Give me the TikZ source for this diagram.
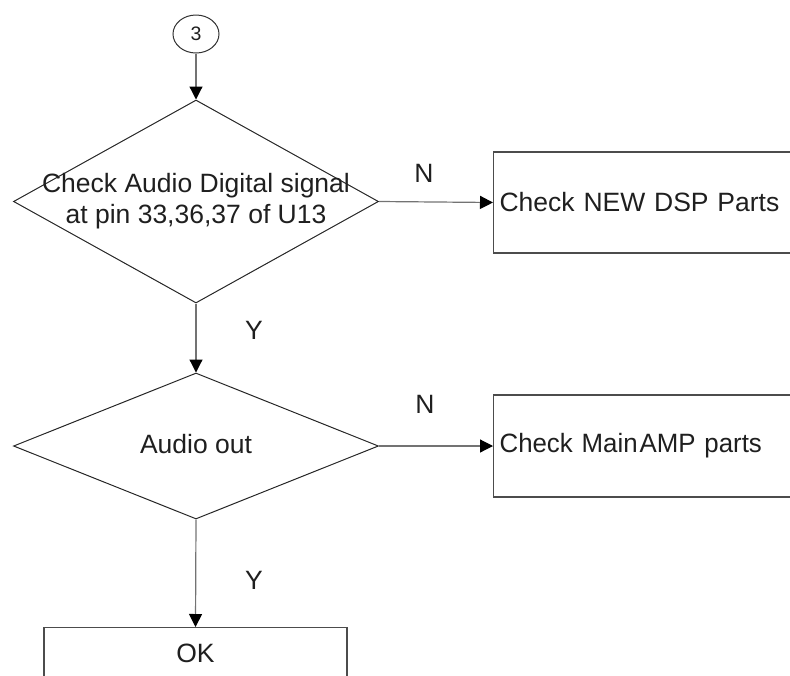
\documentclass[tikz,border=0pt]{standalone}
\usepackage{fontspec}
\setmainfont{Liberation Sans}
\usetikzlibrary{shapes.geometric,arrows.meta}
\begin{document}
\begin{tikzpicture}[x=1pt,y=-1pt,
  txt/.style={font=\fontsize{26.5}{31}\selectfont, text=black!88},
  conn/.style={draw=black!55, line width=1.2pt, -{Triangle[length=13pt,width=13pt,color=black]}},
  dia/.style={draw=black!85, line width=1pt, diamond, inner sep=0pt, minimum width=365pt},
  boxn/.style={draw=black!70, line width=1.2pt, rectangle, inner sep=0pt}
]
\useasboundingbox (0,0) rectangle (790,675);
\clip (0,0) rectangle (790,675);
\node[draw=black!80, line width=1pt, ellipse, minimum width=46pt, minimum height=38pt, inner sep=0pt, font=\fontsize{19.5}{22}\selectfont, text=black!88] (c3) at (196,34) {3};
\node[dia, minimum height=203pt] (d1) at (196,201.5) {};
\node[txt, align=center] (t1) at (196,201) {Check Audio Digital signal\\at pin 33,36,37 of U13};
\node[dia, minimum height=146pt] (d2) at (196,446) {};
\node[txt] (t2) at (196,444) {Audio out};
\node[boxn, txt, anchor=west, minimum width=330pt, minimum height=101pt, text width=318pt, inner xsep=6pt, align=left] (b1) at (493,202.5) {Check NEW DSP Parts};
\node[boxn, txt, anchor=west, minimum width=330pt, minimum height=102pt, text width=318pt, inner xsep=6pt, align=left] (b2) at (493,446) {\addfontfeatures{FakeStretch=0.975}Check Main\kern2pt AMP parts};
\node[boxn, txt, anchor=north, minimum width=303pt, minimum height=52pt] (ok) at (195.5,627) {OK};
\node[txt, anchor=base] (n1) at (424,182) {N};
\node[txt, anchor=base] (n2) at (425,413) {N};
\node[txt, anchor=base] (y1) at (254,339) {Y};
\node[txt, anchor=base] (y2) at (254,589) {Y};
\draw[conn] (c3.south) -- (d1.north);
\draw[conn] (d1.east) -- (b1.west);
\draw[conn] (d1.south) -- (d2.north);
\draw[conn] (d2.east) -- (b2.west);
\draw[conn] (d2.south) -- (ok.north);
\end{tikzpicture}
\end{document}
